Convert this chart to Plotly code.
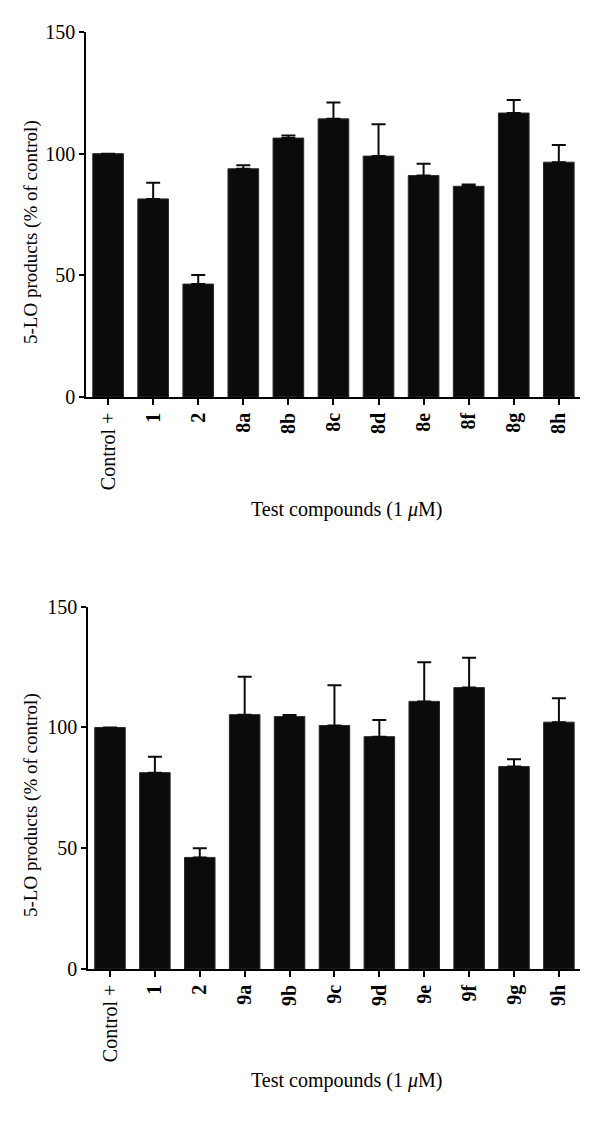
import plotly.graph_objects as go

categories_top = ["Control +", "1", "2", "8a", "8b", "8c", "8d", "8e", "8f", "8g", "8h"]
values_top = [100, 81.4, 46.4, 93.8, 106.4, 114.3, 99.0, 91.0, 86.6, 116.7, 96.5]
errors_top = [0, 6.6, 3.7, 1.4, 1.1, 6.7, 13.1, 4.9, 0.7, 5.4, 7.1]

categories_bottom = ["Control +", "1", "2", "9a", "9b", "9c", "9d", "9e", "9f", "9g", "9h"]
values_bottom = [100, 81.3, 46.2, 105.3, 104.5, 100.8, 96.2, 110.8, 116.5, 83.8, 102.2]
errors_bottom = [0, 6.6, 3.8, 15.7, 0.7, 16.7, 6.9, 16.2, 12.4, 3.0, 9.9]

y_ticks = [0, 50, 100, 150]
y_title = "5-LO products (% of control)"
x_title = "Test compounds (1 <i>μ</i>M)"

FONT = "Liberation Serif, Times New Roman, serif"
BAR = "#0a0c0a"


def labels(cats):
    return [c if c.startswith("Control") else "<b>%s</b>" % c for c in cats]


fig = go.Figure()
for cats, vals, errs, xa, ya in [
    (categories_top, values_top, errors_top, "x", "y"),
    (categories_bottom, values_bottom, errors_bottom, "x2", "y2"),
]:
    fig.add_trace(go.Bar(
        x=cats, y=vals, xaxis=xa, yaxis=ya,
        marker=dict(color=BAR, line=dict(color="#2a2a2a", width=1)),
        width=0.68,
        error_y=dict(type="data", array=errs, arrayminus=[0] * len(errs),
                     symmetric=False, color=BAR, thickness=2, width=7),
        showlegend=False,
    ))

axis_common = dict(showline=True, linecolor="black", linewidth=1.5, ticks="outside",
                   tickcolor="black", tickwidth=1.5, showgrid=False, zeroline=False,
                   automargin=False,
                   tickfont=dict(family=FONT, size=20, color="black"))

fig.update_layout(
    template="none",
    width=600, height=1146,
    margin=dict(l=0, r=0, t=0, b=0, pad=0, autoexpand=False),
    paper_bgcolor="white", plot_bgcolor="white",
    font=dict(family=FONT, color="black"),
    xaxis=dict(domain=[86 / 600, 580 / 600], anchor="y", type="category",
               categoryorder="array", categoryarray=categories_top,
               tickvals=categories_top, ticktext=labels(categories_top),
               tickangle=-90, ticklen=6, range=[-0.49, 10.47], **axis_common),
    yaxis=dict(domain=[1 - 397 / 1146, 1 - 32 / 1146], anchor="x", range=[0, 150],
               tickvals=y_ticks, ticklen=5, **axis_common),
    xaxis2=dict(domain=[88 / 600, 580 / 600], anchor="y2", type="category",
                categoryorder="array", categoryarray=categories_bottom,
                tickvals=categories_bottom, ticktext=labels(categories_bottom),
                tickangle=-90, ticklen=6, range=[-0.49, 10.47], **axis_common),
    yaxis2=dict(domain=[1 - 969 / 1146, 1 - 606.7 / 1146], anchor="x2", range=[0, 150],
                tickvals=y_ticks, ticklen=5, **axis_common),
)

ann = []
for (xc, yc) in [(346, 510), (346, 1080)]:
    ann.append(dict(text=x_title, x=xc / 600, y=1 - yc / 1146, xref="paper", yref="paper",
                    showarrow=False, font=dict(family=FONT, size=20, color="black"),
                    xanchor="center", yanchor="middle"))
for (xc, yc) in [(31, 232), (31, 805)]:
    ann.append(dict(text=y_title, x=xc / 600, y=1 - yc / 1146, xref="paper", yref="paper",
                    showarrow=False, textangle=-90,
                    font=dict(family=FONT, size=19, color="black"),
                    xanchor="center", yanchor="middle"))
fig.update_layout(annotations=ann)

fig.write_html("out.html", config={"displayModeBar": False},
               post_script="document.body.style.margin='0';document.body.style.overflow='hidden';")
